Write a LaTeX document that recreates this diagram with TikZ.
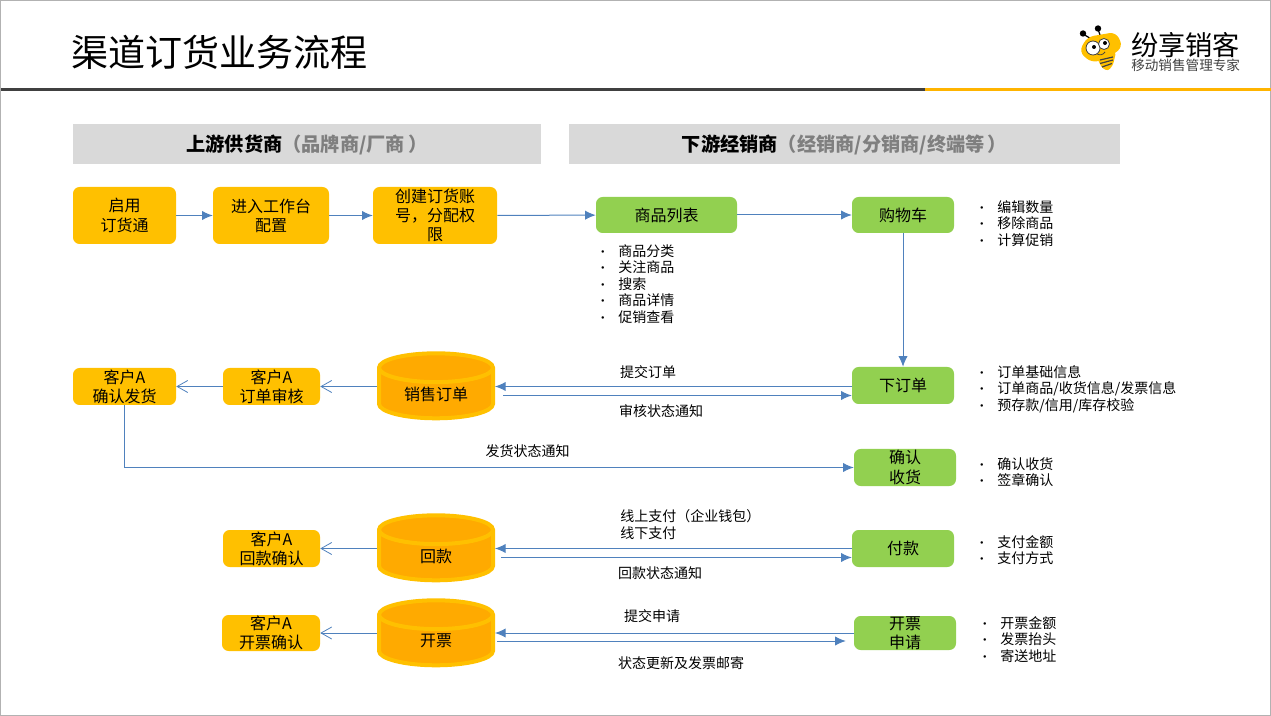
\documentclass[tikz,border=0pt]{standalone}
\usepackage{fontspec}
\setmainfont{Noto Sans CJK SC}
\usetikzlibrary{shapes.geometric, arrows.meta, positioning, calc}
\definecolor{orangebase}{HTML}{FFC000}
\definecolor{orangedeep}{HTML}{FFAA00}
\definecolor{greenbase}{HTML}{92D050}
\definecolor{flowblue}{HTML}{4F81BD}
\definecolor{headgrey}{HTML}{D9D9D9}
\definecolor{notegrey}{HTML}{7F7F7F}
\definecolor{ruledark}{HTML}{404040}
\definecolor{ruleyellow}{HTML}{FFB400}
\def\px{0.75pt}
\newcommand{\bul}{\makebox[18\dimexpr0.75pt\relax][l]{\hspace*{-2.5pt}\fontsize{9}{9}\selectfont •}}
\tikzset{
    boxsize/.style 2 args={minimum width=#1*\px, minimum height=#2*\px},
    orangebox/.style={fill=orangebase, rounded corners=5pt, inner sep=0pt, align=center, font=\fontsize{12}{14.4}\selectfont},
    greenbox/.style={fill=greenbase, rounded corners=5pt, inner sep=0pt, align=center, font=\fontsize{12}{14.4}\selectfont},
    headbar/.style={fill=headgrey, inner sep=0pt, font=\fontsize{14.4}{16}\selectfont\bfseries},
    dbdrum/.style={cylinder, shape border rotate=90, aspect=0.45, cylinder uses custom fill, cylinder body fill=orangedeep, cylinder end fill=orangedeep, draw=orangebase, line width=3pt, inner sep=0pt, text width=48pt, align=center, minimum width=114*\px, minimum height=65*\px, font=\fontsize{12}{14.4}\selectfont},
    flownote/.style={inner sep=0pt, font=\fontsize{10.5}{12.4}\selectfont},
    listnote/.style={inner sep=0pt, anchor=north west, align=left, font=\fontsize{10.5}{12.4}\selectfont},
    flowfill/.style={draw=flowblue, line width=0.75pt, -{Latex[length=8pt, width=7pt]}},
    flowopen/.style={draw=flowblue, line width=0.75pt, -{Straight Barb[length=8pt, width=9pt, line width=0.6pt]}}
}
\begin{document}
\begin{tikzpicture}[x=0.75pt, y=-0.75pt]
    \useasboundingbox (0,0) rectangle (1271,716);
    \draw[black!30, line width=0.75pt] (0.5,0.5) rectangle (1270.5,715.5);

    \node[anchor=west, inner sep=0pt, font=\fontsize{27.8}{32}\selectfont] (pagetitle) at (71,52) {渠道订货业务流程};
    \fill[ruledark] (1,88) rectangle (925,91);
    \fill[ruleyellow] (925,88) rectangle (1271,91);

    \draw[black, line width=0.9pt] (1093,40) -- (1083,34);
    \draw[black, line width=0.9pt] (1101,38) -- (1098,29);
    \fill[black] (1083,33.5) circle (3.2);
    \fill[black] (1098,28.5) circle (3.2);
    \fill[orangebase, rounded corners=5pt] (1079,52) -- (1087,37) -- (1116,32) -- (1123,47) -- (1108,58) -- (1092,63) -- cycle;
    \fill[orangebase, rounded corners=2pt] (1097,58) -- (1116,52) -- (1113,65) -- (1108,71) -- (1102,68) -- cycle;
    \draw[ruledark, line width=0.9pt] (1100,60) -- (1113,57);
    \draw[ruledark, line width=0.9pt] (1100,63.5) -- (1113,60);
    \draw[ruledark, line width=0.9pt] (1102,67) -- (1112,63.5);
    \filldraw[fill=white, draw=ruledark, line width=0.6pt] (1093,48) circle (7);
    \filldraw[fill=white, draw=ruledark, line width=0.6pt] (1104,44) circle (5.5);
    \fill[black] (1094,47) circle (2);
    \fill[black] (1105,43) circle (2);
    \draw[ruledark, line width=0.6pt] (1097,54) .. controls (1100,55.5) and (1103,55) .. (1105,52);
    \node[anchor=west, inner sep=0pt, font=\fontsize{20.4}{22}\selectfont] (brandname) at (1131,45) {纷享销客};
    \node[anchor=west, inner sep=0pt, text=ruledark, font=\fontsize{10.2}{12}\selectfont] (brandtag) at (1131,65) {移动销售管理专家};

    \node[headbar, boxsize={468}{40}] (upbar) at (307,144.5) {上游供货商\textcolor{notegrey}{（品牌商/厂商\,）}};
    \node[headbar, boxsize={551}{40}] (downbar) at (844.5,144.5) {下游经销商\textcolor{notegrey}{（经销商/分销商/终端等\,）}};

    \node[orangebox, boxsize={103}{57}] (enable) at (124.5,215.5) {启用\\订货通};
    \node[orangebox, boxsize={116}{57}] (workbench) at (271,215.5) {进入工作台\\配置};
    \node[orangebox, boxsize={124}{57}] (account) at (435,215.5) {创建订货账\\号，分配权\\限};
    \node[greenbox, boxsize={141}{36}] (goods) at (666.5,215) {商品列表};
    \node[greenbox, boxsize={102}{36}] (cart) at (903,215) {购物车};

    \node[orangebox, boxsize={103}{37}] (shipok) at (124.5,386.5) {客户A\\确认发货};
    \node[orangebox, boxsize={97}{37}] (audit) at (271.5,386.5) {客户A\\订单审核};
    \node[dbdrum] (salesdb) at (436,394) {销售订单};
    \node[greenbox, boxsize={102}{37}] (order) at (903,385.5) {下订单};
    \node[greenbox, boxsize={102}{37}] (receive) at (905,467.5) {确认\\收货};

    \node[orangebox, boxsize={97}{37}] (backok) at (271.5,548.5) {客户A\\回款确认};
    \node[dbdrum] (backdb) at (436,556) {回款};
    \node[greenbox, boxsize={102}{37}] (pay) at (903,548.5) {付款};

    \node[orangebox, boxsize={98}{36}] (billok) at (271,633) {客户A\\开票确认};
    \node[dbdrum] (billdb) at (436,641) {开票};
    \node[greenbox, boxsize={102}{34}] (billreq) at (905,633) {开票\\申请};

    \draw[flowfill] (enable) -- (workbench);
    \draw[flowfill] (workbench) -- (account);
    \draw[flowfill] (account) -- (goods);
    \draw[flowfill] (goods) -- (cart);
    \draw[flowfill] (cart) -- (order);

    \draw[flowfill] ([yshift=-1*\px]order.west) -- ([yshift=-1*\px]order.west -| salesdb.east);
    \draw[flowfill] ([yshift=-10*\px]order.west -| salesdb.east) ++(8,0) -- ([yshift=-10*\px]order.west);
    \draw[flowopen] (salesdb.west |- audit.east) -- (audit.east);
    \draw[flowopen] (audit.west) -- (shipok.east);
    \draw[flowfill] (shipok.south) |- (receive.west);

    \draw[flowfill] (pay.west) -- (pay.west -| backdb.east);
    \draw[flowfill] ([yshift=-9*\px]pay.west -| backdb.east) ++(6,0) -- ([yshift=-9*\px]pay.west);
    \draw[flowopen] (backdb.west |- backok.east) -- (backok.east);

    \draw[flowfill] (billreq.west) -- (billreq.west -| billdb.east);
    \draw[flowfill] ([yshift=-8*\px]billreq.west -| billdb.east) ++(2,0) -- ([yshift=-8*\px,xshift=-8*\px]billreq.west);
    \draw[flowopen] (billdb.west |- billok.east) -- (billok.east);

    \node[flownote] (submitnote) at (648,372) {提交订单};
    \node[flownote] (auditnote) at (661,411) {审核状态通知};
    \node[flownote] (shipnote) at (527.5,451) {发货状态通知};
    \node[flownote, anchor=west, align=left] (paynote) at (620,524.5) {线上支付（企业钱包）\\线下支付};
    \node[flownote] (backnote) at (660,573) {回款状态通知};
    \node[flownote] (applynote) at (652,616) {提交申请};
    \node[flownote] (mailnote) at (681,663) {状态更新及发票邮寄};

    \node[listnote] (goodslist) at (600,244) {\bul 商品分类\\\bul 关注商品\\\bul 搜索\\\bul 商品详情\\\bul 促销查看};
    \node[listnote] (cartlist) at (979,200) {\bul 编辑数量\\\bul 移除商品\\\bul 计算促销};
    \node[listnote] (orderlist) at (979,365) {\bul 订单基础信息\\\bul 订单商品/收货信息/发票信息\\\bul 预存款/信用/库存校验};
    \node[listnote] (receivelist) at (979,457) {\bul 确认收货\\\bul 签章确认};
    \node[listnote] (paylist) at (979,535) {\bul 支付金额\\\bul 支付方式};
    \node[listnote] (billlist) at (982,616) {\bul 开票金额\\\bul 发票抬头\\\bul 寄送地址};
\end{tikzpicture}
\end{document}
